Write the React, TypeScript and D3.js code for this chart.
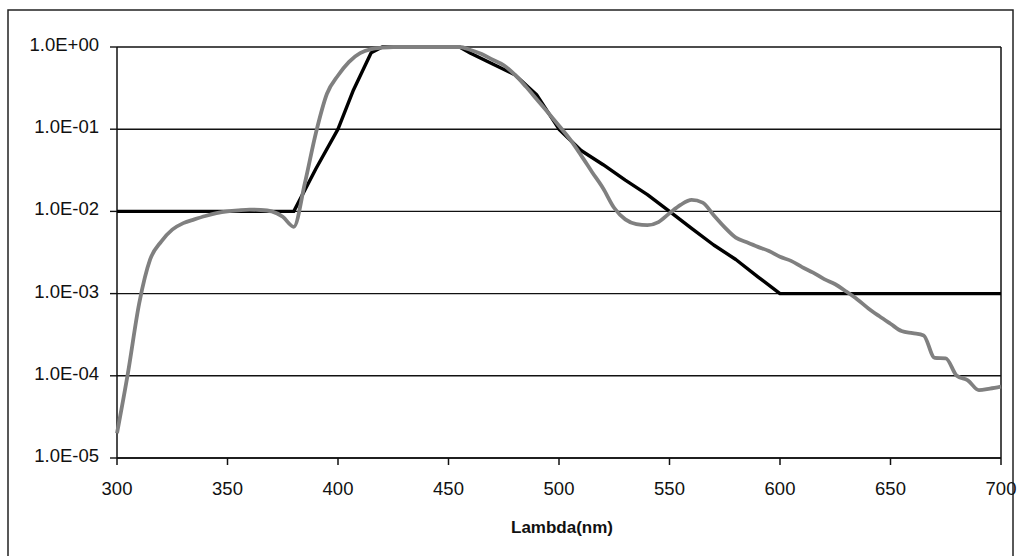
import * as d3 from 'd3';
import React from 'react';

// filter transmission spec (black)
const specLambda = [300, 380, 390, 400, 407, 415, 420, 455, 460, 470, 480, 490, 500, 510, 520, 530, 540, 550, 560, 570, 580, 590, 600, 700];
const specValue = [0.01, 0.01, 0.033, 0.1, 0.3, 0.85, 1, 1, 0.84, 0.62, 0.46, 0.26, 0.1, 0.055, 0.037, 0.024, 0.016, 0.01, 0.0062, 0.0039, 0.0026, 0.0016, 0.001, 0.001];

// measured curve (gray)
const measLambda = [300, 305, 310, 315, 320, 325, 330, 335, 340, 345, 350, 355, 360, 365, 370, 375, 380, 385, 390, 395, 400, 405, 410, 415, 420, 425, 430, 440, 450, 455, 460, 465, 470, 475, 480, 485, 490, 495, 500, 505, 510, 515, 520, 525, 530, 535, 540, 545, 550, 555, 560, 565, 570, 575, 580, 585, 590, 595, 600, 605, 610, 615, 620, 625, 630, 635, 640, 645, 650, 655, 660, 665, 670, 675, 680, 685, 690, 695, 700];
const measValue = [2.0e-5, 1.1e-4, 7.5e-4, 2.6e-3, 4.3e-3, 6.0e-3, 7.2e-3, 8.0e-3, 8.8e-3, 9.5e-3, 1.0e-2, 1.03e-2, 1.05e-2, 1.04e-2, 1.0e-2, 8.6e-3, 6.5e-3, 2.2e-2, 0.09, 0.27, 0.45, 0.66, 0.84, 0.94, 0.98, 1.0, 1.0, 1.0, 1.0, 1.0, 0.92, 0.82, 0.7, 0.6, 0.46, 0.33, 0.23, 0.16, 0.11, 0.075, 0.048, 0.03, 0.019, 0.011, 0.008, 0.007, 0.0068, 0.0074, 0.0095, 0.012, 0.0138, 0.0128, 0.009, 0.0064, 0.0048, 0.0042, 0.0037, 0.0033, 0.0028, 0.0025, 0.0021, 0.0018, 0.0015, 0.0013, 0.00106, 0.00085, 0.00066, 0.00053, 0.00043, 0.00035, 0.00033, 0.00031, 0.000165, 0.000163, 0.0001, 0.000088, 0.000067, 0.00007, 0.000074];

const xTicks = [300, 350, 400, 450, 500, 550, 600, 650, 700];
const yTicks = [1, 1e-1, 1e-2, 1e-3, 1e-4, 1e-5];
const yTickLabels = ['1.0E+00', '1.0E-01', '1.0E-02', '1.0E-03', '1.0E-04', '1.0E-05'];

export default function App() {
    const margin = { top: 47, left: 117, right: 1001, bottom: 458 };
    const font = 'Arial, "Liberation Sans", sans-serif';

    const x = d3.scaleLinear().domain([300, 700]).range([margin.left, margin.right]);
    const y = d3.scaleLog().domain([1e-5, 1]).range([margin.bottom, margin.top]);

    const line = d3.line<[number, number]>()
        .x(d => x(d[0]))
        .y(d => y(d[1]));

    const spec = specLambda.map((l, i) => [l, specValue[i]] as [number, number]);
    const meas = measLambda.map((l, i) => [l, measValue[i]] as [number, number]);

    const grayPath = line.curve(d3.curveMonotoneX)(meas) || '';
    const blackPath = line.curve(d3.curveLinear)(spec) || '';

    return (
        <svg width={1021} height={556} style={{ position: 'absolute', left: 0, top: 0, background: '#fff' }}>
            {/* outer frame */}
            <rect x={8} y={10} width={1005} height={560} fill="none" stroke="#222" strokeWidth={1.5} />

            {/* gridlines + y labels */}
            {yTicks.map((t, i) => (
                <g key={'y' + i}>
                    <line x1={margin.left} x2={margin.right} y1={y(t)} y2={y(t)} stroke="#111" strokeWidth={1.4} />
                    <line x1={margin.left - 7} x2={margin.left} y1={y(t)} y2={y(t)} stroke="#111" strokeWidth={1.4} />
                    <text x={99} y={y(t) + 4} textAnchor="end" fontFamily={font} fontSize={18.5} fill="#111">{yTickLabels[i]}</text>
                </g>
            ))}

            {/* axes */}
            <line x1={margin.left} x2={margin.left} y1={margin.top} y2={margin.bottom} stroke="#111" strokeWidth={1.5} />
            <line x1={margin.right} x2={margin.right} y1={margin.top} y2={margin.bottom} stroke="#111" strokeWidth={1.5} />
            <line x1={margin.left} x2={margin.right} y1={margin.bottom} y2={margin.bottom} stroke="#111" strokeWidth={1.5} />
            {xTicks.map(t => (
                <g key={'x' + t}>
                    <line x1={x(t)} x2={x(t)} y1={margin.bottom} y2={margin.bottom + 7} stroke="#111" strokeWidth={1.5} />
                    <text x={x(t)} y={495} textAnchor="middle" fontFamily={font} fontSize={18.5} fill="#111">{t}</text>
                </g>
            ))}

            <path d={blackPath} fill="none" stroke="#000" strokeWidth={3.4} strokeLinejoin="round" />
            <path d={grayPath} fill="none" stroke="#808080" strokeWidth={3.8} strokeLinejoin="round" />

            <text x={562} y={533} textAnchor="middle" fontFamily={font} fontSize={17} fontWeight="bold" fill="#111">Lambda(nm)</text>
        </svg>
    );
}
